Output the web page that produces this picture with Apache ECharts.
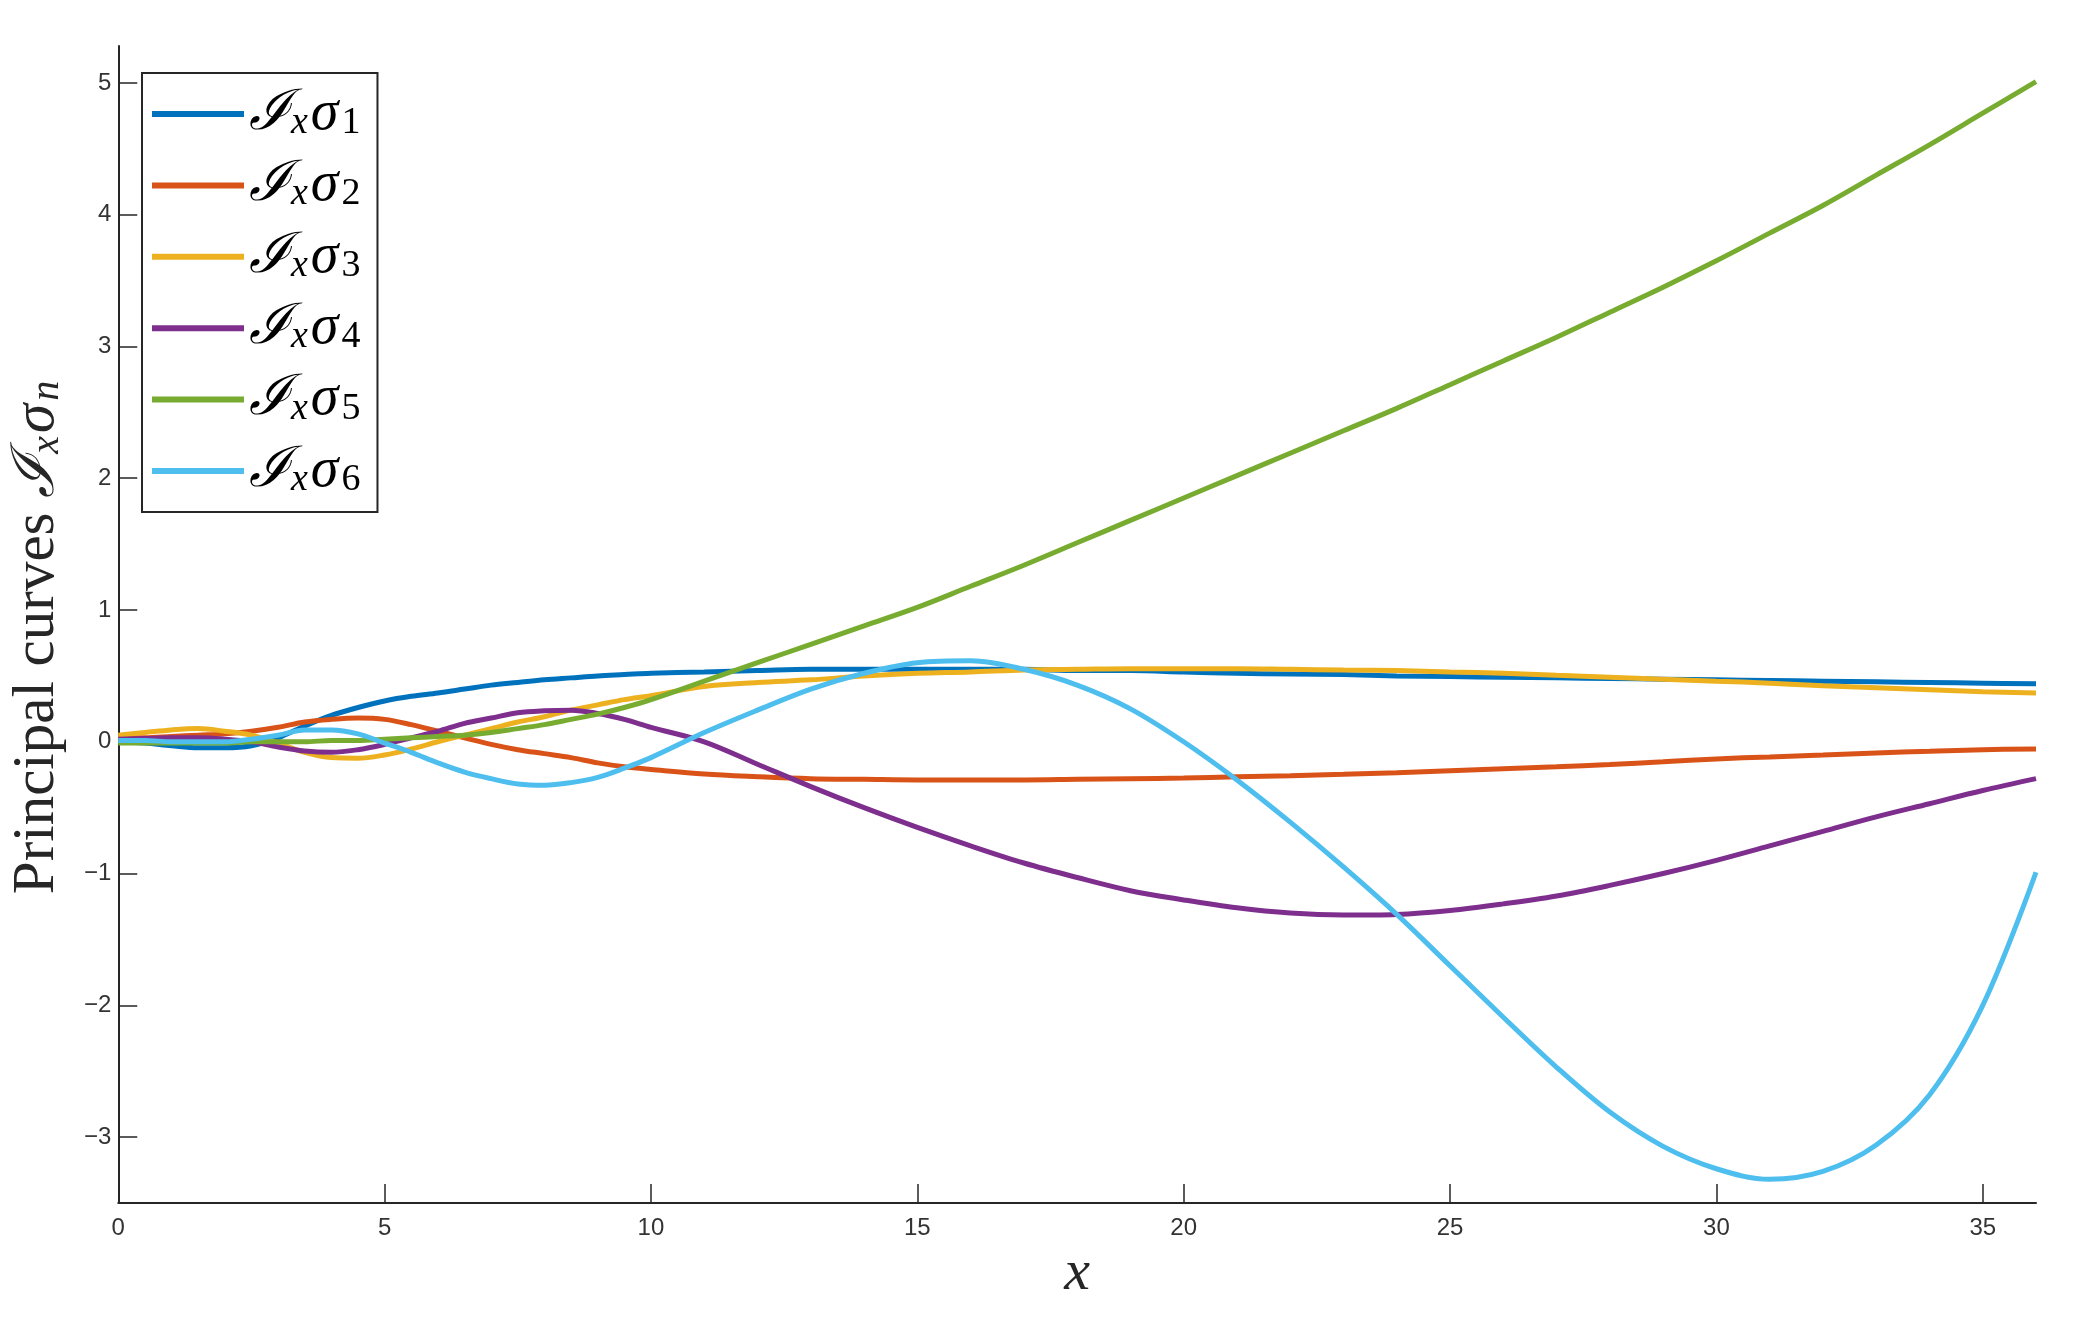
<!DOCTYPE html>
<html>
<head>
<meta charset="utf-8">
<script src="https://cdn.jsdelivr.net/npm/echarts@6/dist/echarts.min.js"></script>
<style>
html,body{margin:0;padding:0;background:#fff;}
#chart{width:2092px;height:1332px;}
</style>
</head>
<body>
<div id="chart"></div>
<script>
const xs = [0,0.5,1,1.5,2,2.5,3,3.5,4,4.5,5,5.5,6,6.5,7,7.5,8,8.5,9,9.5,10,11,12,13,14,15,16,17,18,19,20,21,22,23,24,25,26,27,28,29,30,31,32,33,34,35,36];

const sigma1 = [0,-0.01,-0.03,-0.045,-0.045,-0.03,0.03,0.12,0.2,0.26,0.31,0.345,0.37,0.4,0.43,0.45,0.47,0.485,0.5,0.51,0.52,0.53,0.54,0.55,0.55,0.55,0.55,0.55,0.54,0.54,0.53,0.52,0.515,0.51,0.5,0.495,0.49,0.485,0.48,0.475,0.47,0.465,0.46,0.455,0.45,0.445,0.44];
const sigma2 = [0.03,0.03,0.04,0.05,0.06,0.08,0.11,0.15,0.17,0.18,0.17,0.13,0.08,0.03,-0.02,-0.06,-0.09,-0.12,-0.16,-0.19,-0.21,-0.245,-0.265,-0.28,-0.285,-0.29,-0.29,-0.29,-0.285,-0.28,-0.275,-0.265,-0.257,-0.247,-0.235,-0.22,-0.205,-0.19,-0.172,-0.152,-0.13,-0.115,-0.1,-0.085,-0.072,-0.06,-0.055];
const sigma3 = [0.05,0.07,0.09,0.1,0.08,0.05,-0.01,-0.08,-0.12,-0.125,-0.1,-0.055,0.0,0.05,0.1,0.15,0.19,0.24,0.28,0.32,0.35,0.42,0.45,0.47,0.5,0.52,0.53,0.545,0.55,0.555,0.555,0.555,0.55,0.545,0.54,0.53,0.52,0.505,0.49,0.475,0.46,0.445,0.425,0.41,0.395,0.38,0.37];
const sigma4 = [0.02,0.025,0.03,0.03,0.02,0.0,-0.04,-0.07,-0.08,-0.06,-0.02,0.03,0.08,0.14,0.18,0.22,0.235,0.24,0.215,0.17,0.11,0.0,-0.17,-0.34,-0.5,-0.65,-0.79,-0.92,-1.03,-1.13,-1.2,-1.26,-1.3,-1.315,-1.31,-1.28,-1.23,-1.17,-1.09,-1.0,-0.9,-0.79,-0.68,-0.57,-0.47,-0.37,-0.28];
const sigma5 = [-0.01,-0.01,-0.01,-0.01,-0.01,0,0,0,0.01,0.01,0.02,0.03,0.04,0.05,0.07,0.1,0.13,0.17,0.21,0.26,0.32,0.46,0.6,0.74,0.88,1.02,1.18,1.34,1.51,1.68,1.85,2.02,2.19,2.36,2.53,2.71,2.89,3.07,3.26,3.45,3.65,3.86,4.07,4.3,4.53,4.77,5.01];
const sigma6 = [0.01,0.01,0.0,0.0,0.0,0.02,0.05,0.09,0.09,0.06,-0.01,-0.08,-0.16,-0.23,-0.28,-0.32,-0.33,-0.31,-0.27,-0.2,-0.12,0.07,0.24,0.4,0.52,0.6,0.615,0.55,0.43,0.25,0.0,-0.29,-0.61,-0.95,-1.31,-1.7,-2.09,-2.47,-2.81,-3.07,-3.24,-3.32,-3.26,-3.06,-2.68,-2.0,-0.99];

const seriesNames = ['s1','s2','s3','s4','s5','s6'];
const seriesSubs = ['1','2','3','4','5','6'];
const seriesData = [sigma1,sigma2,sigma3,sigma4,sigma5,sigma6];
const colors = ['#0072BD','#D95319','#EDB120','#7E2F8E','#77AC30','#4DBEEE'];
const yTicks = [-3,-2,-1,0,1,2,3,4,5];
const xTicks = [0,5,10,15,20,25,30,35];

const serif = '"Liberation Serif","DejaVu Serif",serif';
const sans = '"Liberation Sans",Arial,sans-serif';
const chart = echarts.init(document.getElementById('chart'), null, {renderer:'canvas'});

const series = seriesData.map((d,i)=>({
  name: seriesNames[i],
  type: 'line',
  data: xs.map((x,j)=>[x,d[j]]),
  smooth: 0.35,
  showSymbol: false,
  symbol: 'none',
  lineStyle: {width: 5, color: colors[i]},
  itemStyle: {color: colors[i]},
  z: 2 + i
}));

function mathRich(size, sub, color){
  const pb = Math.round(size*0.11);
  return {
    t: {fontFamily: serif, fontSize: size, lineHeight: size, verticalAlign: 'top', padding:[0,0,pb,0], color: color},
    c: {fontFamily: serif, fontStyle: 'italic', fontSize: size, lineHeight: size, verticalAlign: 'top', padding:[0,0,pb,0], color: color},
    g: {fontFamily: serif, fontStyle: 'italic', fontSize: size, lineHeight: size, verticalAlign: 'top', padding:[0,0,pb,0], color: color},
    x: {fontFamily: serif, fontStyle: 'italic', fontSize: sub, lineHeight: sub, verticalAlign: 'bottom', padding:[0,3,0,0], color: color},
    n: {fontFamily: serif, fontSize: sub, lineHeight: sub, verticalAlign: 'bottom', padding:[0,0,0,3], color: color},
    ni: {fontFamily: serif, fontStyle: 'italic', fontSize: sub, lineHeight: sub, verticalAlign: 'bottom', padding:[0,0,0,3], color: color}
  };
}

chart.setOption({
  backgroundColor: '#fff',
  animation: false,
  grid: {left: 116, right: 56, top: 46, bottom: 129, containLabel: false},
  legend: {
    orient: 'vertical',
    left: 142, top: 73,
    padding: [13, 17, 7, 10],
    backgroundColor: '#fff',
    borderColor: '#262626',
    borderWidth: 2,
    borderRadius: 0,
    itemWidth: 92,
    itemHeight: 6,
    itemGap: 9.4,
    icon: 'rect',
    data: seriesNames,
    formatter: function(name){
      const i = seriesNames.indexOf(name);
      return '{c|ℐ}{x|x}{g|σ}{n|' + seriesSubs[i] + '}';
    },
    textStyle: { color: '#000', rich: mathRich(56, 38, '#000') }
  },
  xAxis: {
    type: 'value',
    min: 0, max: 36,
    name: 'x',
    nameLocation: 'middle',
    nameGap: 40,
    nameTextStyle: {fontFamily: serif, fontStyle: 'italic', fontSize: 58, color: '#262626'},
    axisLine: {show: true, onZero: false, lineStyle: {color: '#262626', width: 2}},
    axisTick: {show: true, inside: true, length: 19, customValues: xTicks, lineStyle: {color:'#262626', width: 1.5}},
    axisLabel: {customValues: xTicks, margin: 13, fontSize: 24, color: '#333', fontFamily: sans},
    splitLine: {show: false}
  },
  yAxis: {
    type: 'value',
    min: -3.5, max: 5.28,
    name: '{t|Principal curves }{c|ℐ}{x|x}{g|σ}{ni|n}',
    nameLocation: 'middle',
    nameGap: 44,
    nameRotate: 90,
    nameTextStyle: {
      color: '#262626',
      padding: [0, 26, 0, 0],
      rich: mathRich(59, 40, '#262626')
    },
    axisLine: {show: true, onZero: false, lineStyle: {color: '#262626', width: 2}},
    axisTick: {show: true, inside: true, length: 19, customValues: yTicks, lineStyle: {color:'#262626', width: 1.5}},
    axisLabel: {
      customValues: yTicks, margin: 7, fontSize: 24, color: '#333', fontFamily: sans,
      formatter: function(v){ return String(v).replace('-', '\u2212'); }
    },
    splitLine: {show: false}
  },
  series: series
});
</script>
</body>
</html>
